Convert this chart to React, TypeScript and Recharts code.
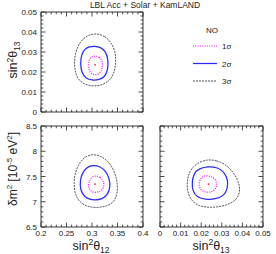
import React from 'react';
import { ComposedChart, Line, Scatter, XAxis, YAxis } from 'recharts';

const W = 276;
const H = 254;
const FONT = '"Liberation Sans", Arial, sans-serif';

const TITLE = 'LBL Acc + Solar + KamLAND';
const LEGEND_HEAD = 'NO';
const LEGEND_ITEMS = ['1σ', '2σ', '3σ'];

// axis ticks (major = labelled)
const S12_MAJOR = [0.2, 0.25, 0.3, 0.35, 0.4];
const S12_TICKS = [
  0.2, 0.21, 0.22, 0.23, 0.24, 0.25, 0.26, 0.27, 0.28, 0.29, 0.3,
  0.31, 0.32, 0.33, 0.34, 0.35, 0.36, 0.37, 0.38, 0.39, 0.4,
];
const S13_MAJOR = [0, 0.01, 0.02, 0.03, 0.04, 0.05];
const S13_TICKS = [
  0, 0.002, 0.004, 0.006, 0.008, 0.01, 0.012, 0.014, 0.016, 0.018, 0.02, 0.022, 0.024,
  0.026, 0.028, 0.03, 0.032, 0.034, 0.036, 0.038, 0.04, 0.042, 0.044, 0.046, 0.048, 0.05,
];
const DM_MAJOR = [6.5, 7, 7.5, 8, 8.5];
const DM_TICKS = [
  6.5, 6.6, 6.7, 6.8, 6.9, 7, 7.1, 7.2, 7.3, 7.4, 7.5,
  7.6, 7.7, 7.8, 7.9, 8, 8.1, 8.2, 8.3, 8.4, 8.5,
];

// best fit
const BF_S12 = 0.306;
const BF_S13 = 0.0236;
const BF_DM = 7.35;

// sin2th12 (x) vs sin2th13 (y)
const TL_1S = [
  { x: 0.306, y: 0.0281 }, { x: 0.315, y: 0.0275 }, { x: 0.32, y: 0.0255 }, { x: 0.321, y: 0.023 },
  { x: 0.318, y: 0.02 }, { x: 0.311, y: 0.0186 }, { x: 0.302, y: 0.0186 }, { x: 0.295, y: 0.02 },
  { x: 0.293, y: 0.023 }, { x: 0.294, y: 0.026 }, { x: 0.299, y: 0.0277 },
];
const TL_2S = [
  { x: 0.305, y: 0.0329 }, { x: 0.318, y: 0.0323 }, { x: 0.327, y: 0.0301 }, { x: 0.332, y: 0.026 },
  { x: 0.331, y: 0.021 }, { x: 0.325, y: 0.0174 }, { x: 0.312, y: 0.0159 }, { x: 0.3, y: 0.0159 },
  { x: 0.288, y: 0.0167 }, { x: 0.28, y: 0.0195 }, { x: 0.277, y: 0.024 }, { x: 0.279, y: 0.0286 },
  { x: 0.286, y: 0.0316 }, { x: 0.295, y: 0.0327 },
];
const TL_3S = [
  { x: 0.307, y: 0.0394 }, { x: 0.325, y: 0.0381 }, { x: 0.338, y: 0.0347 }, { x: 0.346, y: 0.03 },
  { x: 0.347, y: 0.025 }, { x: 0.344, y: 0.0198 }, { x: 0.335, y: 0.0157 }, { x: 0.319, y: 0.0134 },
  { x: 0.305, y: 0.0129 }, { x: 0.29, y: 0.0134 }, { x: 0.276, y: 0.0152 }, { x: 0.268, y: 0.0188 },
  { x: 0.265, y: 0.024 }, { x: 0.267, y: 0.0292 }, { x: 0.275, y: 0.0348 }, { x: 0.29, y: 0.0383 },
];

// sin2th12 (x) vs dm2 (y)
const BL_1S = [
  { x: 0.306, y: 7.52 }, { x: 0.316, y: 7.49 }, { x: 0.322, y: 7.42 }, { x: 0.324, y: 7.33 },
  { x: 0.321, y: 7.24 }, { x: 0.313, y: 7.19 }, { x: 0.303, y: 7.18 }, { x: 0.296, y: 7.22 },
  { x: 0.293, y: 7.3 }, { x: 0.294, y: 7.4 }, { x: 0.299, y: 7.48 },
];
const BL_2S = [
  { x: 0.303, y: 7.72 }, { x: 0.316, y: 7.7 }, { x: 0.327, y: 7.61 }, { x: 0.334, y: 7.46 },
  { x: 0.336, y: 7.3 }, { x: 0.331, y: 7.14 }, { x: 0.32, y: 7.05 }, { x: 0.305, y: 7.03 },
  { x: 0.29, y: 7.06 }, { x: 0.28, y: 7.16 }, { x: 0.276, y: 7.32 }, { x: 0.278, y: 7.49 },
  { x: 0.284, y: 7.62 }, { x: 0.293, y: 7.7 },
];
const BL_3S = [
  { x: 0.3, y: 7.94 }, { x: 0.315, y: 7.92 }, { x: 0.331, y: 7.81 }, { x: 0.343, y: 7.63 },
  { x: 0.35, y: 7.4 }, { x: 0.35, y: 7.17 }, { x: 0.344, y: 7.0 }, { x: 0.329, y: 6.91 },
  { x: 0.31, y: 6.88 }, { x: 0.291, y: 6.9 }, { x: 0.277, y: 6.98 }, { x: 0.267, y: 7.13 },
  { x: 0.264, y: 7.36 }, { x: 0.267, y: 7.58 }, { x: 0.275, y: 7.77 }, { x: 0.286, y: 7.89 },
];

// sin2th13 (x) vs dm2 (y)
const BR_1S = [
  { x: 0.0232, y: 7.52 }, { x: 0.026, y: 7.48 }, { x: 0.0275, y: 7.4 }, { x: 0.0276, y: 7.3 },
  { x: 0.0262, y: 7.21 }, { x: 0.0235, y: 7.18 }, { x: 0.021, y: 7.2 }, { x: 0.0192, y: 7.27 },
  { x: 0.0189, y: 7.37 }, { x: 0.0197, y: 7.46 }, { x: 0.0212, y: 7.51 },
];
const BR_2S = [
  { x: 0.0235, y: 7.7 }, { x: 0.028, y: 7.68 }, { x: 0.0312, y: 7.59 }, { x: 0.033, y: 7.43 },
  { x: 0.0328, y: 7.26 }, { x: 0.0311, y: 7.12 }, { x: 0.027, y: 7.05 }, { x: 0.022, y: 7.04 },
  { x: 0.0178, y: 7.09 }, { x: 0.0158, y: 7.22 }, { x: 0.0155, y: 7.38 }, { x: 0.0164, y: 7.56 },
  { x: 0.019, y: 7.66 },
];
const BR_3S = [
  { x: 0.0225, y: 7.84 }, { x: 0.0276, y: 7.82 }, { x: 0.0322, y: 7.73 }, { x: 0.0357, y: 7.58 },
  { x: 0.0382, y: 7.4 }, { x: 0.039, y: 7.21 }, { x: 0.0372, y: 7.03 }, { x: 0.032, y: 6.92 },
  { x: 0.025, y: 6.88 }, { x: 0.0188, y: 6.91 }, { x: 0.0153, y: 7.02 }, { x: 0.0132, y: 7.2 },
  { x: 0.0131, y: 7.41 }, { x: 0.0143, y: 7.6 }, { x: 0.0173, y: 7.75 },
];

type Side = 'bottom' | 'top' | 'left' | 'right';

const isMajor = (v: number, majors: number[]) => majors.some((m) => Math.abs(m - v) < 1e-9);

// inward ticks drawn by hand; recharts ticks point outward
const tickFor = (side: Side, majors: number[], labels: boolean) => (props: any) => {
  const { x, y, payload } = props;
  const v = payload.value;
  const major = isMajor(v, majors);
  const len = major ? 4.5 : 2.3;
  let x2 = x;
  let y2 = y;
  if (side === 'bottom') y2 = y - len;
  if (side === 'top') y2 = y + len;
  if (side === 'left') x2 = x + len;
  if (side === 'right') x2 = x - len;
  return (
    <g>
      <line x1={x} y1={y} x2={x2} y2={y2} stroke="#222" strokeWidth={0.8} />
      {labels && major && side === 'bottom' && (
        <text x={x} y={y + 8.5} textAnchor="middle" fontSize={8} fontFamily={FONT} fill="#222">
          {String(v)}
        </text>
      )}
      {labels && major && side === 'left' && (
        <text x={x - 4} y={y + 3} textAnchor="end" fontSize={8} fontFamily={FONT} fill="#222">
          {String(v)}
        </text>
      )}
    </g>
  );
};

const dot = (props: any) => <circle cx={props.cx} cy={props.cy} r={0.9} fill="#ff2020" />;

interface PanelProps {
  margin: { top: number; right: number; bottom: number; left: number };
  xDomain: [number, number];
  yDomain: [number, number];
  xTicks: number[];
  xMajor: number[];
  yTicks: number[];
  yMajor: number[];
  xLabels: boolean;
  yLabels: boolean;
  c1: { x: number; y: number }[];
  c2: { x: number; y: number }[];
  c3: { x: number; y: number }[];
  bf: { x: number; y: number };
}

// margin is the plot box; axes take 1px each so subtract it
function Panel(p: PanelProps) {
  const axisLine = { stroke: '#222', strokeWidth: 0.9 };
  const m = {
    top: p.margin.top - 1,
    right: p.margin.right - 1,
    bottom: p.margin.bottom - 1,
    left: p.margin.left - 1,
  };
  return (
    <div style={{ position: 'absolute', left: 0, top: 0 }}>
      <ComposedChart width={W} height={H} margin={m}>
        <XAxis xAxisId="b" type="number" dataKey="x" domain={p.xDomain} allowDataOverflow ticks={p.xTicks}
          interval={0} height={1} tickSize={0} tickMargin={0} tickLine={false} axisLine={axisLine}
          tick={tickFor('bottom', p.xMajor, p.xLabels)} />
        <XAxis xAxisId="t" orientation="top" type="number" dataKey="x" domain={p.xDomain} allowDataOverflow
          ticks={p.xTicks} interval={0} height={1} tickSize={0} tickMargin={0} tickLine={false}
          axisLine={axisLine} tick={tickFor('top', p.xMajor, false)} />
        <YAxis yAxisId="l" type="number" domain={p.yDomain} allowDataOverflow ticks={p.yTicks}
          interval={0} width={1} tickSize={0} tickMargin={0} tickLine={false} axisLine={axisLine}
          tick={tickFor('left', p.yMajor, p.yLabels)} />
        <YAxis yAxisId="r" orientation="right" type="number" domain={p.yDomain} allowDataOverflow
          ticks={p.yTicks} interval={0} width={1} tickSize={0} tickMargin={0} tickLine={false}
          axisLine={axisLine} tick={tickFor('right', p.yMajor, false)} />
        <Line xAxisId="b" yAxisId="l" data={p.c3} dataKey="y" type="basisClosed" stroke="#555"
          strokeWidth={1} strokeDasharray="2 1" dot={false} activeDot={false} isAnimationActive={false} />
        <Line xAxisId="b" yAxisId="l" data={p.c2} dataKey="y" type="basisClosed" stroke="#2a2aff"
          strokeWidth={1.25} dot={false} activeDot={false} isAnimationActive={false} />
        <Line xAxisId="b" yAxisId="l" data={p.c1} dataKey="y" type="basisClosed" stroke="#ff00ff"
          strokeWidth={1.2} strokeDasharray="1 1.3" dot={false} activeDot={false} isAnimationActive={false} />
        <Scatter xAxisId="b" yAxisId="l" data={[p.bf]} dataKey="y" shape={dot} isAnimationActive={false} />
      </ComposedChart>
    </div>
  );
}

function Sin2(props: { x: number; y: number; sub: string; rotate?: boolean }) {
  const { x, y, sub, rotate } = props;
  return (
    <text x={x} y={y} textAnchor="middle" fontSize={12.5} fontFamily={FONT} fill="#222"
      transform={rotate ? `rotate(-90 ${x} ${y})` : undefined}>
      sin<tspan dy={-4.5} fontSize={8.5}>2</tspan>
      <tspan dy={4.5}>θ</tspan>
      <tspan dy={3} fontSize={8.5}>{sub}</tspan>
    </text>
  );
}

export default function App() {
  return (
    <div style={{ position: 'absolute', left: 0, top: 0, width: W, height: H, background: '#fff' }}>
      <Panel margin={{ top: 12, right: 133, bottom: 142, left: 41 }} xDomain={[0.2, 0.4]} yDomain={[0, 0.05]}
        xTicks={S12_TICKS} xMajor={S12_MAJOR} yTicks={S13_TICKS} yMajor={S13_MAJOR} xLabels={false} yLabels
        c1={TL_1S} c2={TL_2S} c3={TL_3S} bf={{ x: BF_S12, y: BF_S13 }} />
      <Panel margin={{ top: 126, right: 133, bottom: 27, left: 41 }} xDomain={[0.2, 0.4]} yDomain={[6.5, 8.5]}
        xTicks={S12_TICKS} xMajor={S12_MAJOR} yTicks={DM_TICKS} yMajor={DM_MAJOR} xLabels yLabels
        c1={BL_1S} c2={BL_2S} c3={BL_3S} bf={{ x: BF_S12, y: BF_DM }} />
      <Panel margin={{ top: 126, right: 13, bottom: 27, left: 160 }} xDomain={[0, 0.05]} yDomain={[6.5, 8.5]}
        xTicks={S13_TICKS} xMajor={S13_MAJOR} yTicks={DM_TICKS} yMajor={DM_MAJOR} xLabels yLabels={false}
        c1={BR_1S} c2={BR_2S} c3={BR_3S} bf={{ x: BF_S13, y: BF_DM }} />

      <svg width={W} height={H} style={{ position: 'absolute', left: 0, top: 0, pointerEvents: 'none' }}>
        <text x={145} y={8} textAnchor="middle" fontSize={8.5} fontFamily={FONT} fill="#222">{TITLE}</text>

        <text x={212} y={33} textAnchor="middle" fontSize={8} fontFamily={FONT} fill="#222">{LEGEND_HEAD}</text>
        <line x1={193} y1={46} x2={217} y2={46} stroke="#ff00ff" strokeWidth={1.2} strokeDasharray="1 1.3" />
        <line x1={193} y1={63.5} x2={217} y2={63.5} stroke="#2a2aff" strokeWidth={1.25} />
        <line x1={193} y1={81} x2={217} y2={81} stroke="#555" strokeWidth={1} strokeDasharray="2 1" />
        {LEGEND_ITEMS.map((s, i) => (
          <text key={s} x={222} y={[49, 66.5, 84][i]} fontSize={8} fontFamily={FONT} fill="#222">{s}</text>
        ))}

        <Sin2 x={17} y={60} sub="13" rotate />
        <text x={17} y={169} textAnchor="middle" fontSize={12} fontFamily={FONT} fill="#222"
          transform="rotate(-90 17 169)">
          δm<tspan dy={-5} fontSize={8}>2</tspan>
          <tspan dy={5}> [10</tspan>
          <tspan dy={-5} fontSize={8}>-5</tspan>
          <tspan dy={5}> eV</tspan>
          <tspan dy={-5} fontSize={8}>2</tspan>
          <tspan dy={5}>]</tspan>
        </text>
        <Sin2 x={91} y={249.5} sub="12" />
        <Sin2 x={211} y={249.5} sub="13" />
      </svg>
    </div>
  );
}
